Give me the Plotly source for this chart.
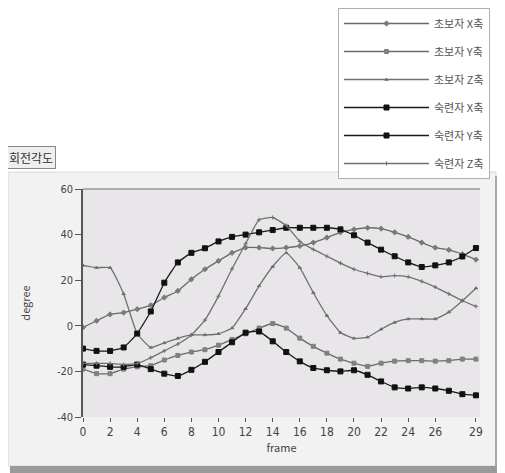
import plotly.graph_objects as go

frames = list(range(30))

novice_x = [-0.7, 2.2, 5, 5.8, 7.3, 9, 12.4, 15.3, 20.4, 24.8, 28.5, 32, 34.3, 34.3, 33.9, 34.3,
            35, 36.5, 38.7, 41, 42.3, 43, 42.6, 41, 39, 36.5, 34.3, 33.3, 31.4, 29]
novice_y = [-19, -21, -21, -19, -18, -17.5, -15, -13, -11.5, -10.5, -8.5, -6, -3.5, -1, 1, -1,
            -5.4, -9, -12, -14.6, -16.4, -17.8, -16.4, -15.5, -15.3, -15.3, -15.5, -15.3, -14.6, -14.6]
novice_z = [26.5, 25.5, 25.5, 14, -3.5, -9.5, -7.5, -5.5, -4, -4, -3.5, -1, 7.5, 17.5, 26, 32,
            25.5, 14.5, 4.5, -3, -5.5, -5, -1.5, 1.5, 3, 3, 3, 6, 11, 16.5]
expert_x = [-10, -11, -11, -9.5, -3.4, 6.3, 18.9, 27.8, 32, 34, 37, 39, 40, 41, 42, 43,
            43, 43, 43, 42.3, 39.7, 36.5, 33.4, 30.5, 27.8, 25.8, 26.5, 27.8, 30.4, 34.1]
expert_y = [-17, -17.5, -18, -18, -17, -19, -21, -22, -19.3, -15.8, -11.5, -7.2, -3, -2.5, -6.8, -11.5,
            -15.6, -18.5, -19.5, -20, -19.5, -21.5, -24.4, -27, -27.5, -27, -27.5, -28.5, -30, -30.5]
expert_z = [-16.5, -16.5, -16.5, -17, -16.5, -14, -11, -8, -4, 2.5, 13, 25, 36, 46.5, 47.5, 44,
            37, 33.5, 30.5, 27.5, 24.8, 23, 21.5, 22, 21.5, 19.5, 17, 14, 11, 8.5]

series_names = ["초보자 X축", "초보자 Y축", "초보자 Z축", "숙련자 X축", "숙련자 Y축", "숙련자 Z축"]
series_values = [novice_x, novice_y, novice_z, expert_x, expert_y, expert_z]

x_tickvals = [0, 2, 4, 6, 8, 10, 12, 14, 16, 18, 20, 22, 24, 26, 29]
x_ticktext = ["0", "2", "4", "6", "8", "10", "12", "14", "16", "18", "20", "22", "24", "26", "29"]
y_tickvals = [-40, -20, 0, 20, 40, 60]
y_ticktext = ["-40", "-20", "0", "20", "40", "60"]

styles = [
    dict(lc="#6a6a6a", mc="#7a7a7a", sym="diamond", ms=4),
    dict(lc="#6a6a6a", mc="#808080", sym="square", ms=4),
    dict(lc="#707070", mc="#707070", sym="triangle-up", ms=3),
    dict(lc="#1a1a1a", mc="#111111", sym="square", ms=5),
    dict(lc="#1a1a1a", mc="#111111", sym="square", ms=5),
    dict(lc="#707070", mc="#707070", sym="cross-thin", ms=3),
]

fig = go.Figure()
for i, (name, vals) in enumerate(zip(series_names, series_values)):
    s = styles[i]
    fig.add_trace(go.Scatter(
        x=frames, y=vals, name=name, mode="lines+markers",
        legendgroup=f"g{i}",
        line=dict(color=s["lc"], width=1.3, shape="spline", smoothing=0.4),
        marker=dict(color=s["mc"], symbol=s["sym"], size=s["ms"],
                    line=dict(color=s["mc"], width=1)),
    ))

font_family = "Noto Sans CJK KR, Noto Sans, DejaVu Sans"

# page has an 8px body margin: figure is 8px smaller; px/py map reference pixels to paper coords
def px(x):
    return (x - 83) / 397

def py(y):
    return (417 - y) / 228

fig.update_layout(
    width=497, height=465,
    margin=dict(l=75, r=25, t=181, b=56, autoexpand=False),
    paper_bgcolor="white",
    plot_bgcolor="#e9e6ea",
    font=dict(family=font_family, size=11, color="#444444"),
    showlegend=True,
    legend=dict(
        x=px(338), xanchor="left",
        y=py(8), yanchor="top",
        bgcolor="white", bordercolor="#b0b0b0", borderwidth=1,
        font=dict(size=11, color="#555555", family=font_family),
        tracegroupgap=9, itemwidth=85,
        traceorder="grouped",
    ),
    xaxis=dict(
        range=[0, 29.3], tickvals=x_tickvals, ticktext=x_ticktext,
        showgrid=False, zeroline=False, ticks="outside", ticklen=4,
        tickcolor="#555", showline=False,
        tickfont=dict(size=12, color="#444", family="DejaVu Sans Condensed, DejaVu Sans"),
        title=dict(text="frame", font=dict(size=11, color="#444"), standoff=4),
    ),
    yaxis=dict(
        range=[-40, 60], tickvals=y_tickvals, ticktext=y_ticktext,
        showgrid=False, zeroline=False, ticks="outside", ticklen=6,
        tickcolor="#555", showline=True, linecolor="#555", linewidth=1.5,
        tickfont=dict(size=11, color="#444", family="DejaVu Sans Condensed, DejaVu Sans"),
        title=dict(text="degree", font=dict(size=11, color="#444"), standoff=24),
    ),
    shapes=[
        dict(type="rect", xref="paper", yref="paper", layer="below",
             x0=px(8), x1=px(496), y0=py(466), y1=py(172),
             fillcolor="#f3f2f3", line=dict(color="#d8d8d8", width=1)),
        dict(type="rect", xref="paper", yref="paper", layer="below",
             x0=0, x1=1, y0=0, y1=1,
             fillcolor="#e9e6ea", line=dict(width=0)),
        dict(type="rect", xref="paper", yref="paper", layer="below",
             x0=px(495), x1=px(503), y0=py(473), y1=py(176),
             fillcolor="#a8a8a8", line=dict(width=0)),
        dict(type="rect", xref="paper", yref="paper", layer="below",
             x0=px(10), x1=px(503), y0=py(473), y1=py(466),
             fillcolor="#9a9a9a", line=dict(width=0)),
        dict(type="line", xref="paper", yref="paper",
             x0=0, x1=1, y0=1, y1=1, line=dict(color="#999", width=1.5)),
    ],
    annotations=[
        dict(text="회전각도", xref="paper", yref="paper",
             x=px(6), xanchor="left", y=py(158), yanchor="middle",
             showarrow=False, bgcolor="#f0eff0", bordercolor="#888", borderwidth=1,
             borderpad=2, font=dict(size=12, color="#333", family=font_family)),
    ],
)

fig.write_html("out.html")
